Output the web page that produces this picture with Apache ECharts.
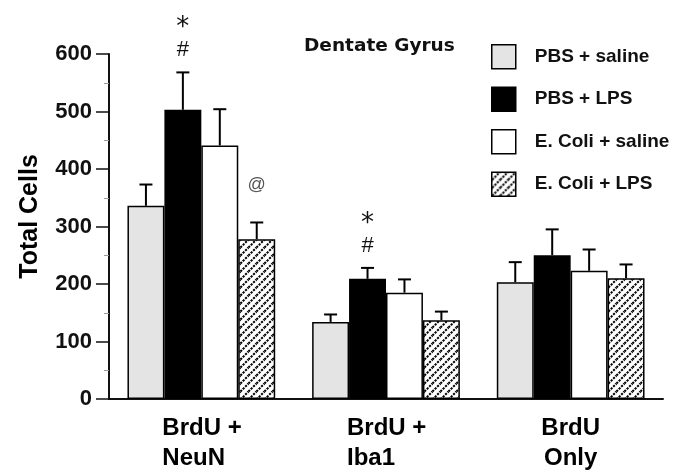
<!DOCTYPE html>
<html>
<head>
<meta charset="utf-8">
<script src="https://cdn.jsdelivr.net/npm/echarts@6/dist/echarts.min.js"></script>
<style>
html,body{margin:0;padding:0;background:#fff;}
#chart{width:684px;height:475px;}
</style>
</head>
<body>
<div id="chart"></div>
<script>
// ---- data ----
const categories = ['BrdU +\nNeuN', 'BrdU +\nIba1', 'BrdU\nOnly'];
const seriesNames = ['PBS + saline', 'PBS + LPS', 'E. Coli + saline', 'E. Coli + LPS'];
const pbsSaline = [336, 134, 203];
const pbsSalineSem = [37, 13, 35];
const pbsLps = [503, 209, 250];
const pbsLpsSem = [65, 19, 45];
const ecoliSaline = [441, 185, 223];
const ecoliSalineSem = [63, 23, 37];
const ecoliLps = [278, 137, 210];
const ecoliLpsSem = [29, 15, 24];
const yTicks = [0, 100, 200, 300, 400, 500, 600];
// significance markers: category index, series index, symbol
const markCats = [0, 0, 0, 1, 1];
const markSeries = [1, 1, 3, 1, 1];
const markTexts = ['*', '#', '@', '*', '#'];

// ---- styling ----
const means = [pbsSaline, pbsLps, ecoliSaline, ecoliLps];
const sems = [pbsSalineSem, pbsLpsSem, ecoliSalineSem, ecoliLpsSem];

function hatchPattern() {
  const c = document.createElement('canvas');
  c.width = 8; c.height = 8;
  const g = c.getContext('2d');
  g.fillStyle = '#fff'; g.fillRect(0, 0, 8, 8);
  g.strokeStyle = '#000'; g.lineWidth = 2;
  g.setLineDash([2.2, 1.2]);
  g.beginPath();
  g.moveTo(-2, 10); g.lineTo(10, -2);
  g.stroke();
  g.setLineDash([]);
  g.beginPath(); g.moveTo(-2, 2); g.lineTo(2, -2); g.stroke();
  g.beginPath(); g.moveTo(6, 10); g.lineTo(10, 6); g.stroke();
  return c;
}
const fills = ['#e4e4e4', '#000000', '#ffffff', { image: hatchPattern(), repeat: 'repeat' }];

const markStyle = {
  '*': { dy: 44, font: 'normal 26px "DejaVu Sans"', color: '#111' },
  '#': { dy: 22, font: 'normal 22px "Liberation Sans"', color: '#111' },
  '@': { dy: 37, font: 'normal 18px "Liberation Sans"', color: '#555' }
};

function barX(api, cat, s) {
  const bandW = api.size([1, 0])[0];
  const bw = bandW * 0.8 / 4;
  const center = api.coord([cat, 0])[0];
  return center - bandW * 0.4 + bw * (s + 0.5);
}

const errData = [];
for (let s = 0; s < 4; s++) {
  for (let c = 0; c < categories.length; c++) {
    errData.push([c, means[s][c], sems[s][c], s]);
  }
}
const markData = markTexts.map((t, i) => {
  const c = markCats[i], s = markSeries[i];
  return [c, means[s][c] + sems[s][c], s, i];
});

const barSeries = seriesNames.map((name, s) => ({
  name: name,
  type: 'bar',
  data: means[s],
  barGap: '0%',
  barCategoryGap: '20%',
  itemStyle: { color: fills[s], borderColor: '#000', borderWidth: 1.5 },
  emphasis: { disabled: true },
  z: 3
}));

const option = {
  backgroundColor: '#fff',
  animation: false,
  title: {
    text: 'Dentate Gyrus',
    left: 304, top: 37, padding: 0,
    textStyle: { fontFamily: 'DejaVu Sans', fontWeight: 'bold', fontSize: 18.5, color: '#111' }
  },
  legend: {
    orient: 'vertical',
    left: 491, top: 44, padding: 0,
    itemWidth: 24, itemHeight: 24, itemGap: 17,
    icon: 'rect',
    data: seriesNames,
    itemStyle: { borderColor: '#000', borderWidth: 1.5 },
    textStyle: { fontFamily: 'Liberation Sans', fontWeight: 'bold', fontSize: 19, color: '#111', padding: [0, 0, 0, 14] }
  },
  grid: { left: 109, right: 21, top: 54, bottom: 76, outerBoundsMode: 'none', containLabel: false },
  xAxis: {
    type: 'category',
    data: categories,
    axisLine: { lineStyle: { color: '#111', width: 2 } },
    axisTick: { show: false },
    axisLabel: {
      margin: 14,
      formatter: function (v, i) {
        const lines = v.split('\n');
        if (i < 2) return lines.map(l => '{l|' + l + '}').join('\n');
        return lines.map(l => '{c|' + l + '}').join('\n');
      },
      rich: {
        l: { width: 78, align: 'left', fontFamily: 'Liberation Sans', fontWeight: 'bold', fontSize: 24, lineHeight: 30, color: '#000' },
        c: { align: 'center', fontFamily: 'Liberation Sans', fontWeight: 'bold', fontSize: 24, lineHeight: 30, color: '#000' }
      }
    }
  },
  yAxis: {
    type: 'value',
    min: yTicks[0], max: yTicks[yTicks.length - 1], interval: 100,
    name: 'Total Cells',
    nameLocation: 'middle',
    nameGap: 66,
    nameMoveOverlap: false,
    nameTextStyle: { fontFamily: 'Liberation Sans', fontWeight: 'bold', fontSize: 25, color: '#000', padding: [0, 0, 0, 20] },
    axisLine: { show: true, lineStyle: { color: '#111', width: 2 } },
    axisTick: { show: true, length: 13, lineStyle: { color: '#111', width: 1.5 } },
    minorTick: { show: true, splitNumber: 2, length: 5, lineStyle: { color: '#999', width: 1 } },
    splitLine: { show: false },
    axisLabel: { margin: 17, fontFamily: 'Liberation Sans', fontWeight: 'bold', fontSize: 22, color: '#111' }
  },
  series: barSeries.concat([
    {
      type: 'custom',
      name: 'err',
      data: errData,
      encode: { x: 0, y: 1 },
      z: 4,
      renderItem: function (params, api) {
        const c = api.value(0), m = api.value(1), e = api.value(2), s = api.value(3);
        const x = barX(api, c, s);
        const yb = api.coord([c, m])[1];
        const yt = api.coord([c, m + e])[1];
        const st = { stroke: '#000', lineWidth: 2 };
        return {
          type: 'group',
          children: [
            { type: 'line', shape: { x1: x, y1: yb, x2: x, y2: yt }, style: st },
            { type: 'line', shape: { x1: x - 6.5, y1: yt, x2: x + 6.5, y2: yt }, style: st }
          ]
        };
      }
    },
    {
      type: 'custom',
      name: 'marks',
      data: markData,
      encode: { x: 0, y: 1 },
      z: 5,
      renderItem: function (params, api) {
        const c = api.value(0), v = api.value(1), s = api.value(2), i = api.value(3);
        const t = markTexts[i];
        const ms = markStyle[t];
        const x = barX(api, c, s);
        const y = api.coord([c, v])[1] - ms.dy;
        return {
          type: 'text',
          style: { text: t, x: x, y: y, align: 'center', verticalAlign: 'middle', font: ms.font, fill: ms.color }
        };
      }
    }
  ])
};

const chart = echarts.init(document.getElementById('chart'), null, { renderer: 'canvas' });
chart.setOption(option);
</script>
</body>
</html>
